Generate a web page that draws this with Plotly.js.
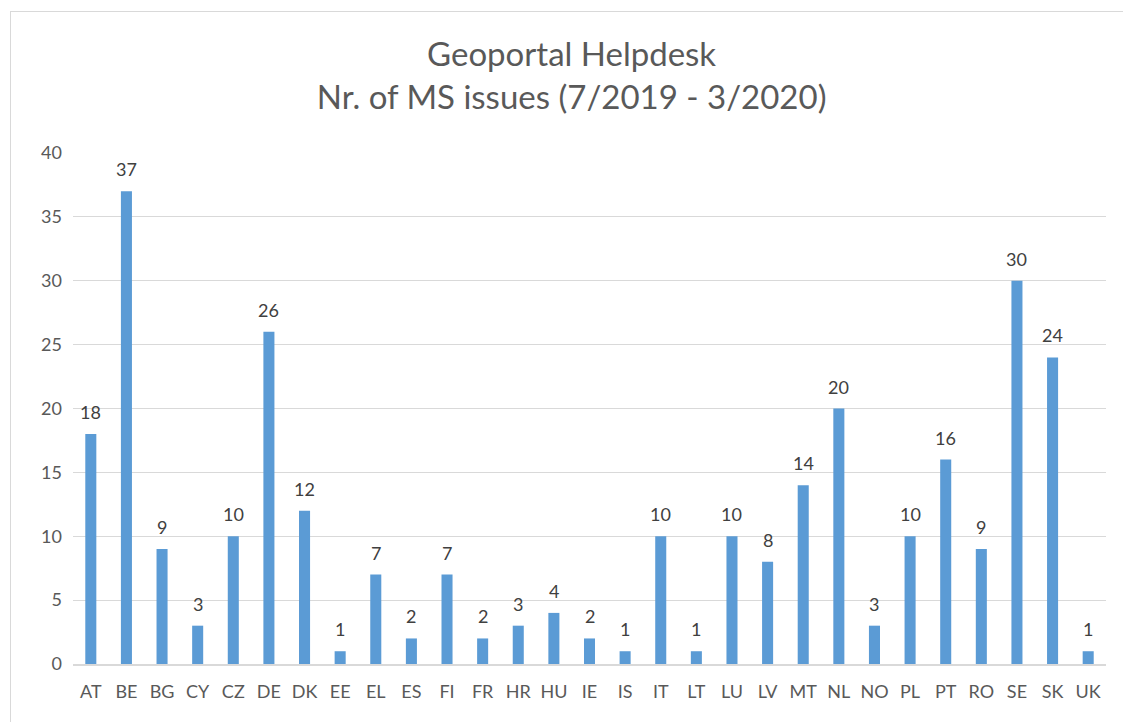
<!DOCTYPE html>
<html><head><meta charset="utf-8">
<script src="https://cdn.plot.ly/plotly-3.0.1.min.js"></script>
<style>
html,body{margin:0;padding:0;background:#fff;}
#chart{width:1123px;height:722px;}
#frame{position:absolute;left:10px;top:11px;width:1125px;height:730px;border:1px solid #d9d9d9;pointer-events:none;}
</style></head>
<body>
<div id="chart"></div>
<div id="frame"></div>
<script>
const countries = ["AT","BE","BG","CY","CZ","DE","DK","EE","EL","ES","FI","FR","HR","HU","IE","IS","IT","LT","LU","LV","MT","NL","NO","PL","PT","RO","SE","SK","UK"];
const issues = [18,37,9,3,10,26,12,1,7,2,7,2,3,4,2,1,10,1,10,8,14,20,3,10,16,9,30,24,1];
const yTicks = [0,5,10,15,20,25,30,35,40];

const fontFam = "Lato, 'Open Sans', 'DejaVu Sans', sans-serif";

const annotations = countries.map((c,i)=>({
  x: c, y: issues[i], xref:'x', yref:'y', text: String(issues[i]),
  showarrow:false, yanchor:'bottom', yshift:9,
  font:{family:fontFam,size:18,color:'#404040'}
}));

Plotly.newPlot('chart',[{
  type:'bar', x:countries, y:issues,
  marker:{color:'#5b9bd5'},
  hoverinfo:'x+y'
}],{
  width:1123, height:722,
  margin:{l:73,r:17,t:153,b:58},
  paper_bgcolor:'#fff', plot_bgcolor:'#fff',
  bargap:0.69,
  title:{text:'Geoportal Helpdesk<br>Nr. of MS issues (7/2019 - 3/2020)',
    font:{family:fontFam,size:33,color:'#595959', lineposition:'none'},
    x:0.509, xref:'container', xanchor:'center', y:0.908, yref:'container', yanchor:'middle'},
  xaxis:{type:'category', tickfont:{family:fontFam,size:18,color:'#595959'},
    showgrid:false, showline:true, linecolor:'#d9d9d9', linewidth:1.5, ticks:'', ticklen:0,
    ticklabelstandoff:11},
  yaxis:{range:[0,40], tickvals:yTicks, tickfont:{family:fontFam,size:18,color:'#595959'},
    showgrid:true, gridcolor:'#d9d9d9', gridwidth:1.2, zeroline:false, showline:false, ticks:'',
    ticklabelstandoff:10},
  annotations: annotations,
  showlegend:false
},{displayModeBar:false});
</script>
</body></html>
